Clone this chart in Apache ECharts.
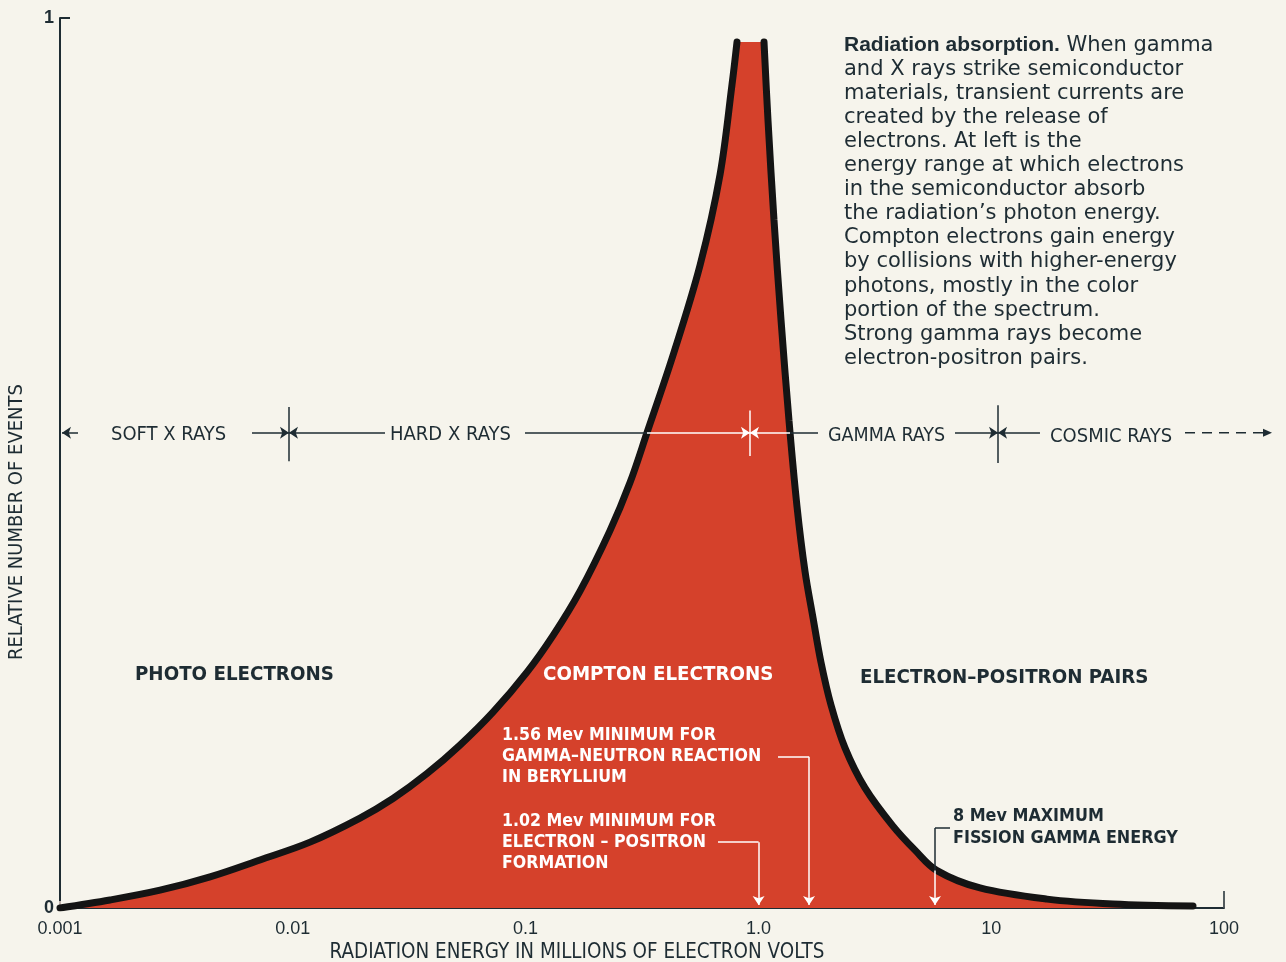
<!DOCTYPE html>
<html><head><meta charset="utf-8">
<script src="https://cdn.jsdelivr.net/npm/echarts@6/dist/echarts.min.js"></script>
<style>html,body{margin:0;padding:0;background:#f6f4ec}#c{width:1286px;height:962px}</style>
</head><body><div id="c"></div>
<script>
// ---- data ----
// rising flank (photo + compton electrons), energy in MeV, relative number of events
const energyLeft = [0.001, 0.00164, 0.00269, 0.00441, 0.00723, 0.01186, 0.01944, 0.02694, 0.03772, 0.05226, 0.07244, 0.1014, 0.1311, 0.1713, 0.2304, 0.2809, 0.3323, 0.4298, 0.5613, 0.6842, 0.7701, 0.8092];
const eventsLeft = [0, 0.009, 0.020, 0.035, 0.054, 0.074, 0.101, 0.123, 0.151, 0.183, 0.220, 0.265, 0.306, 0.356, 0.424, 0.478, 0.534, 0.621, 0.722, 0.824, 0.925, 0.973];
// falling flank (electron-positron pairs)
const energyRight = [1.057, 1.0996, 1.1667, 1.2505, 1.3531, 1.4651, 1.586, 1.7165, 1.8576, 2.051, 2.355, 2.870, 3.786, 4.706, 5.851, 8.953, 17.37, 33.37, 73.6];
const eventsRight = [0.973, 0.885, 0.773, 0.661, 0.548, 0.451, 0.378, 0.326, 0.276, 0.228, 0.180, 0.135, 0.092, 0.065, 0.042, 0.0225, 0.010, 0.0045, 0.0022];
const xTickLabels = ['0.001', '0.01', '0.1', '1.0', '10', '100'];
const yTickLabels = ['0', '1'];
const bandNames = ['SOFT X RAYS', 'HARD X RAYS', 'GAMMA RAYS', 'COSMIC RAYS'];
const bandBounds = [0.00963, 0.92, 10.7];   // band boundaries as drawn
const bandLevel = 0.534;                     // height of the band line
const markerEnergies = [1.002, 1.65, 5.736]; // arrows: 1.02 Mev, 1.56 Mev, 8 Mev (as drawn)
const regionNames = ['PHOTO ELECTRONS', 'COMPTON ELECTRONS', 'ELECTRON\u2013POSITRON PAIRS'];

const DARK = '#1e2c33', RED = '#d5412b', WHITE = '#ffffff', CREAM = '#f6f4ec';
const FONT = "'Liberation Sans', Arial, sans-serif";
const COND = "'DejaVu Sans Condensed', 'DejaVu Sans', sans-serif";

const leftPts = energyLeft.map((e, i) => [e, eventsLeft[i]]);
const rightPts = energyRight.map((e, i) => [e, eventsRight[i]]);
const allPts = leftPts.concat(rightPts);

function seg(x1, y1, x2, y2, color, arrow) {
  return [
    { coord: [x1, y1], symbol: 'none' },
    { coord: [x2, y2], symbol: arrow ? 'arrow' : 'none', symbolSize: 9,
      lineStyle: { color: color, width: 1.5, type: 'solid' } }
  ];
}
const L = bandLevel;
const lines = [
  // band line
  seg(0.001195, L, 0.00102, L, DARK, true),
  seg(0.00668, L, bandBounds[0], L, DARK, true),
  seg(0.02489, L, bandBounds[0], L, DARK, true),
  seg(bandBounds[0], 0.563, bandBounds[0], 0.502, DARK, false),
  seg(0.0994, L, 0.3323, L, DARK, false),
  seg(0.3323, L, bandBounds[1], L, WHITE, true),
  seg(1.367, L, bandBounds[1], L, WHITE, true),
  seg(bandBounds[1], 0.559, bandBounds[1], 0.508, WHITE, false),
  seg(1.367, L, 1.803, L, DARK, false),
  seg(6.99, L, bandBounds[2], L, DARK, true),
  seg(16.2, L, bandBounds[2], L, DARK, true),
  seg(bandBounds[2], 0.565, bandBounds[2], 0.500, DARK, false),
  // 1.02 Mev leader
  seg(0.6707, 0.074, markerEnergies[0], 0.074, WHITE, false),
  seg(markerEnergies[0], 0.074, markerEnergies[0], 0.0035, WHITE, true),
  // 1.56 Mev leader
  seg(1.214, 0.170, markerEnergies[1], 0.170, WHITE, false),
  seg(markerEnergies[1], 0.170, markerEnergies[1], 0.0035, WHITE, true),
  // 8 Mev leader
  seg(6.653, 0.090, markerEnergies[2], 0.090, DARK, false),
  seg(markerEnergies[2], 0.090, markerEnergies[2], 0.042, DARK, false),
  seg(markerEnergies[2], 0.042, markerEnergies[2], 0.0035, WHITE, true),
  // end tick of the energy axis
  seg(100, 0, 100, 0.019, DARK, false)
];

const chart = echarts.init(document.getElementById('c'), null, { renderer: 'canvas' });
chart.setOption({
  backgroundColor: CREAM,
  animation: false,
  grid: { left: 60, right: 62, top: 18, bottom: 54, outerBoundsMode: 'none' },
  xAxis: {
    type: 'log', logBase: 10, min: 0.001, max: 100, splitNumber: 5,
    axisLine: { show: true, lineStyle: { color: DARK, width: 2 } },
    axisTick: { show: true, inside: true, length: 7, lineStyle: { color: '#f2dcd2', width: 1.5 } },
    splitLine: { show: false },
    axisLabel: {
      margin: 12, fontSize: 18, color: DARK, fontFamily: FONT,
      formatter: v => xTickLabels[Math.round(Math.log10(v)) + 3]
    },
    name: 'RADIATION ENERGY IN MILLIONS OF ELECTRON VOLTS',
    nameLocation: 'middle', nameGap: 34,
    nameTextStyle: { fontSize: 20.4, color: DARK, fontFamily: COND, padding: [0, 130, 0, 0] }
  },
  yAxis: {
    type: 'value', min: 0, max: 1, interval: 1,
    axisLine: { show: true, lineStyle: { color: DARK, width: 2 } },
    axisTick: { show: true, inside: true, length: 10, lineStyle: { color: DARK, width: 2 } },
    splitLine: { show: false },
    axisLabel: { margin: 6, fontSize: 18, fontWeight: 'bold', color: DARK, fontFamily: FONT,
      formatter: v => yTickLabels[Math.round(v)] },
    name: 'RELATIVE NUMBER OF EVENTS', nameLocation: 'middle', nameGap: 33, nameRotate: 90,
    nameTextStyle: { fontSize: 20, color: DARK, fontFamily: COND, padding: [0, 118, 0, 0] }
  },
  series: [
    { type: 'line', data: allPts, smooth: 0.35, showSymbol: false, z: 1,
      lineStyle: { width: 0 }, areaStyle: { color: RED, opacity: 1 }, silent: true },
    { type: 'line', data: leftPts, smooth: 0.35, showSymbol: false, z: 3,
      lineStyle: { width: 7, color: '#141414', cap: 'round' }, silent: true },
    { type: 'line', data: rightPts, smooth: 0.35, showSymbol: false, z: 3,
      lineStyle: { width: 7, color: '#141414', cap: 'round' }, silent: true },
    { type: 'line', data: [], z: 4, silent: true,
      markLine: { silent: true, animation: false, symbol: ['none', 'none'], label: { show: false },
        lineStyle: { color: DARK, width: 1.5, type: 'solid' }, data: lines } }
  ]
});

// cosmic-ray arrow runs past the end of the axis: place it through the axis scale
const c1 = chart.convertToPixel({ gridIndex: 0 }, [68, bandLevel]);
const c2 = chart.convertToPixel({ gridIndex: 0 }, [160.8, bandLevel]);

function txt(id, x, y, text, color, size, weight) {
  return { type: 'text', id: id, x: x, y: y, z: 100, silent: true,
    style: { text: text, fill: color, fontSize: size, fontWeight: weight || 'normal', fontFamily: COND,
      align: 'left', verticalAlign: 'middle' } };
}
function block(id, x, y, text, color, size, lh) {
  return { type: 'text', id: id, x: x, y: y, z: 100, silent: true,
    style: { text: text, fill: color, fontSize: size, fontWeight: 'bold', fontFamily: COND,
      lineHeight: lh, align: 'left', verticalAlign: 'top' } };
}
const para = '{b|Radiation absorption.}{n| When gamma}\n' +
  '{n|and X rays strike semiconductor}\n{n|materials, transient currents are}\n' +
  '{n|created by the release of}\n{n|electrons. At left is the}\n' +
  '{n|energy range at which electrons}\n{n|in the semiconductor absorb}\n' +
  '{n|the radiation\u2019s photon energy.}\n{n|Compton electrons gain energy}\n' +
  '{n|by collisions with higher-energy}\n{n|photons, mostly in the color}\n' +
  '{n|portion of the spectrum.}\n{n|Strong gamma rays become}\n{n|electron-positron pairs.}';

chart.setOption({
  graphic: [
    txt('r0', 135, 675, regionNames[0], DARK, 20.3, 'bold'),
    txt('r1', 543, 675, regionNames[1], WHITE, 20.3, 'bold'),
    txt('r2', 860, 678, regionNames[2], DARK, 20.3, 'bold'),
    txt('b0', 111, 435, bandNames[0], DARK, 20),
    txt('b1', 390, 435, bandNames[1], DARK, 20),
    txt('b2', 828, 436, bandNames[2], DARK, 19.5),
    txt('b3', 1050, 437, bandNames[3], DARK, 20),
    block('a1', 502, 725, '1.56 Mev MINIMUM FOR\nGAMMA\u2013NEUTRON REACTION\nIN BERYLLIUM', WHITE, 17.6, 21),
    block('a2', 502, 811, '1.02 Mev MINIMUM FOR\nELECTRON \u2013 POSITRON\nFORMATION', WHITE, 17.6, 21),
    block('a3', 953, 805, '8 Mev MAXIMUM\nFISSION GAMMA ENERGY', DARK, 17.8, 22),
    { type: 'text', id: 'para', x: 844, y: 33, z: 100, silent: true,
      style: { text: para, fill: DARK, fontSize: 21, fontFamily: "'DejaVu Sans', sans-serif", lineHeight: 24.1,
        align: 'left', verticalAlign: 'top',
        rich: {
          b: { fontSize: 21, fontWeight: 'bold', fontFamily: FONT, lineHeight: 24.1, fill: DARK, color: DARK },
          n: { fontSize: 21, fontFamily: "'DejaVu Sans', sans-serif", lineHeight: 24.1, fill: DARK, color: DARK }
        } } },
    { type: 'line', id: 'cosmic', z: 100, silent: true,
      shape: { x1: c1[0], y1: c1[1], x2: c2[0] - 6, y2: c2[1] },
      style: { stroke: DARK, lineWidth: 1.5, lineDash: [10, 7] } },
    { type: 'polygon', id: 'cosmicHead', z: 100, silent: true,
      shape: { points: [[c2[0], c2[1]], [c2[0] - 9, c2[1] - 4], [c2[0] - 9, c2[1] + 4]] },
      style: { fill: DARK } }
  ]
});
</script></body></html>
